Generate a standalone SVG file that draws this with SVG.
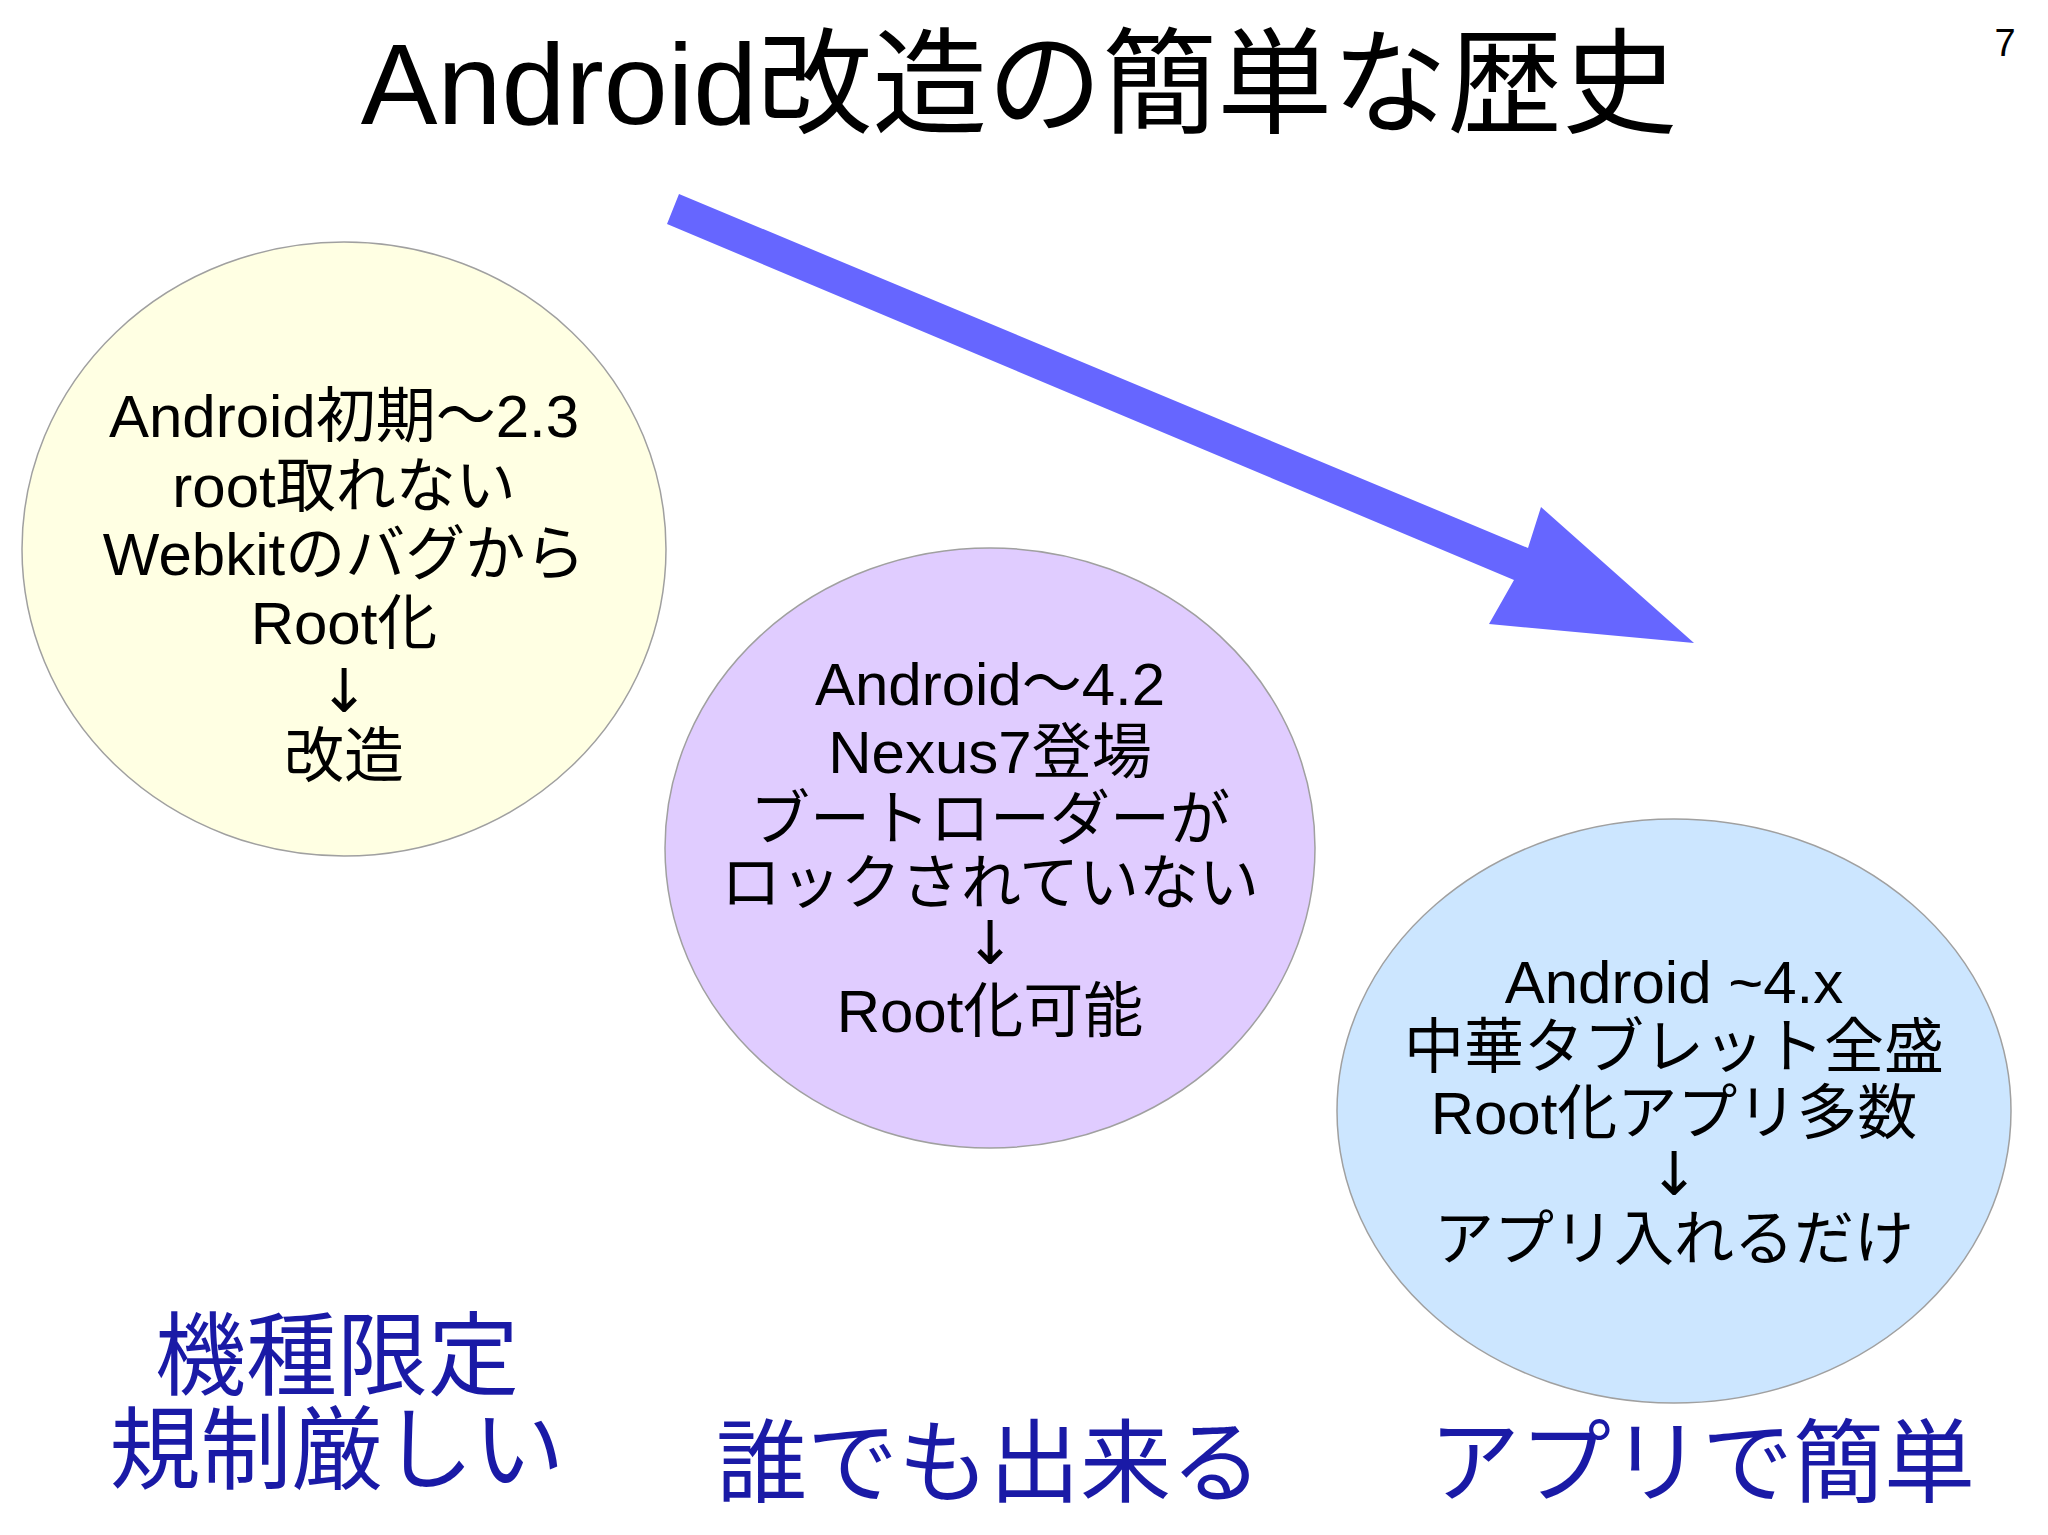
<svg xmlns="http://www.w3.org/2000/svg" width="2048" height="1535" viewBox="0 0 2048 1535">
<style>
text{font-family:"Liberation Sans","Noto Sans CJK JP",sans-serif;text-anchor:middle}
.t{font-size:60px;fill:#000}
.a{font-family:"DejaVu Sans",sans-serif}
.b{font-size:91px;fill:#1a1aa6}
.c{stroke:#a0a0a0;stroke-width:1.5}
</style>
<rect width="2048" height="1535" fill="#fff"/>
<text x="1019" y="124" style="font-size:115px">Android改造の簡単な歴史</text>
<text x="2005" y="56" style="font-size:38px">7</text>
<g id="connectors">
<polygon points="679,194 667,224 1514,580 1489,624 1694,643 1541,507 1528,548" fill="#6666ff"/>
</g>
<g id="n1">
<ellipse class="c" cx="344" cy="549" rx="322" ry="307" fill="#ffffe3"/>
<text class="t" x="344" y="437">Android初期～2.3</text>
<text class="t" x="344" y="507">root取れない</text>
<text class="t" x="344" y="575">Webkitのバグから</text>
<text class="t" x="344" y="644">Root化</text>
<text class="t a" x="344" y="712">↓</text>
<text class="t" x="344" y="777">改造</text>
</g>
<g id="n2">
<ellipse class="c" cx="990" cy="848" rx="325" ry="300" fill="#e0ccff"/>
<text class="t" x="990" y="705">Android～4.2</text>
<text class="t" x="990" y="773">Nexus7登場</text>
<text class="t" x="990" y="840">ブートローダーが</text>
<text class="t" x="990" y="904">ロックされていない</text>
<text class="t a" x="990" y="964">↓</text>
<text class="t" x="990" y="1032">Root化可能</text>
</g>
<g id="n3">
<ellipse class="c" cx="1674" cy="1111" rx="337" ry="292" fill="#cce6ff"/>
<text class="t" x="1674" y="1003">Android ~4.x</text>
<text class="t" x="1674" y="1068">中華タブレット全盛</text>
<text class="t" x="1674" y="1134">Root化アプリ多数</text>
<text class="t a" x="1674" y="1195">↓</text>
<text class="t" x="1674" y="1260">アプリ入れるだけ</text>
</g>
<g id="labels">
<text class="b" x="337" y="1388">機種限定</text>
<text class="b" x="337" y="1482">規制厳しい</text>
<text class="b" x="989" y="1495">誰でも出来る</text>
<text class="b" x="1702" y="1495">アプリで簡単</text>
</g>
</svg>
